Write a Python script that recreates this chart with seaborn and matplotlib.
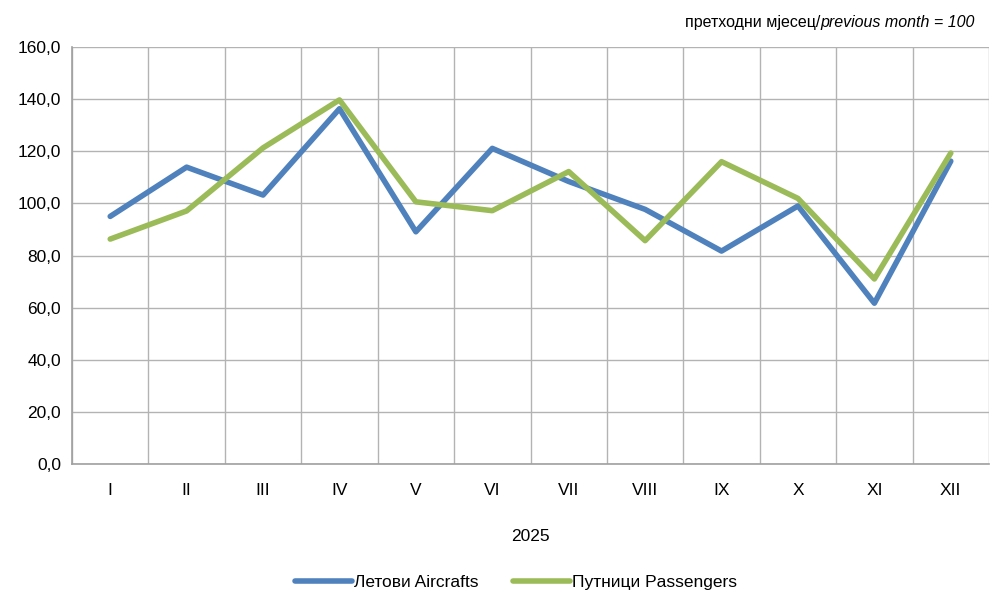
import numpy as np
import pandas as pd
import matplotlib.pyplot as plt
import seaborn as sns
from matplotlib.ticker import FuncFormatter, FixedLocator

months = ["I", "II", "III", "IV", "V", "VI", "VII", "VIII", "IX", "X", "XI", "XII"]
aircrafts = [95.0, 113.9, 103.2, 136.3, 89.1, 121.1, 108.4, 97.7, 81.7, 99.0, 61.7, 116.2]
passengers = [86.3, 97.1, 121.3, 139.7, 100.6, 97.2, 112.2, 85.7, 116.0, 101.9, 71.0, 119.3]
series_names = ["Летови Aircrafts", "Путници Passengers"]
colors = ["#4F81BD", "#9BBB59"]

df = pd.DataFrame({
    "pos": list(range(len(months))) * 2,
    "value": aircrafts + passengers,
    "series": [series_names[0]] * len(months) + [series_names[1]] * len(months),
})

sns.set_style("white")
plt.rcParams['font.family'] = ['Liberation Sans Narrow', 'Liberation Sans', 'DejaVu Sans']
plt.rcParams['text.color'] = 'black'
plt.rcParams['xtick.labelcolor'] = 'black'
plt.rcParams['ytick.labelcolor'] = 'black'

fig = plt.figure(figsize=(9.94, 5.95), dpi=100)
ax = fig.add_axes([72 / 994, 1 - 464 / 595, (989 - 72) / 994, (464 - 47) / 595])

sns.lineplot(data=df, x="pos", y="value", hue="series", palette=colors,
             linewidth=4.0, ax=ax, legend=True, solid_capstyle="round")

ax.set_xlim(-0.5, len(months) - 0.5)
ax.set_ylim(0, 160)
ax.set_yticks(np.arange(0, 161, 20))
ax.yaxis.set_major_formatter(FuncFormatter(lambda v, p: f"{v:.1f}".replace(".", ",")))
ax.set_xticks(range(len(months)))
ax.set_xticklabels(months)
ax.xaxis.set_minor_locator(FixedLocator(np.arange(-0.5, len(months), 1.0)))

ax.grid(True, axis="y", which="major", color="#b3b3b3", linewidth=1.0)
ax.grid(True, axis="x", which="minor", color="#b3b3b3", linewidth=1.0)
ax.grid(False, axis="x", which="major")
ax.set_axisbelow(True)

ax.tick_params(axis="x", which="major", length=0, pad=14, labelsize=12.5)
ax.tick_params(axis="x", which="minor", length=5, color="#a0a0a0", width=1, direction="out")
ax.tick_params(axis="y", which="major", length=5, color="#a0a0a0", width=1, direction="out",
               labelsize=12.5, pad=3)

for s in ["top", "right"]:
    ax.spines[s].set_visible(False)
for s in ["left", "bottom"]:
    ax.spines[s].set_color("#a0a0a0")
    ax.spines[s].set_linewidth(1.2)

ax.set_xlabel("2025", fontsize=12.5, labelpad=22, color="black")
ax.set_ylabel("")

handles, labels = ax.get_legend_handles_labels()
for h in handles:
    h.set_linewidth(4.0)
ax.legend(handles, labels, loc="center", bbox_to_anchor=(0.484, -0.285), ncol=2,
          frameon=False, fontsize=12.5, handlelength=3.3, handletextpad=0.1, columnspacing=2.0)

# header: upright Cyrillic part followed by italic English part
header = fig.text(975 / 994, 1 - 22 / 595, "previous month = 100", ha="right", va="center",
                  fontsize=11.5, style="italic", family=['Liberation Sans', 'DejaVu Sans'])
fig.canvas.draw()
bb = header.get_window_extent()
fig.text(bb.x0 / fig.bbox.width, 1 - 22 / 595, "претходни мјесец/", ha="right", va="center",
         fontsize=11.5, family=['Liberation Sans', 'DejaVu Sans'])

fig.savefig("out.png", dpi=100)
